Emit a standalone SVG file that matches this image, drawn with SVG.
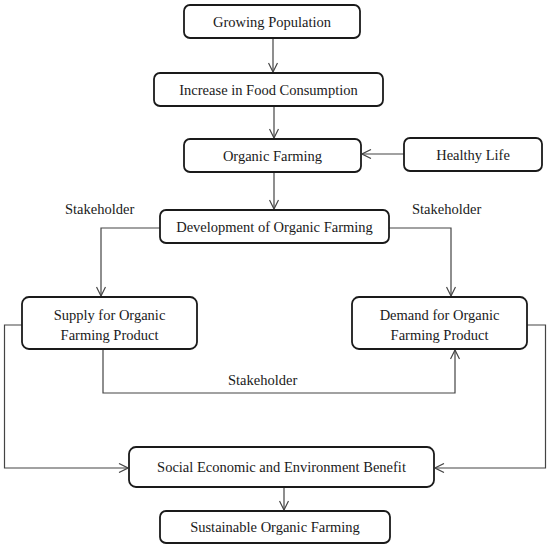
<svg xmlns="http://www.w3.org/2000/svg" width="550" height="548" viewBox="0 0 550 548">
<style>
.box{fill:#fff;stroke:#1a1a1a;stroke-width:1.8}
text{font-family:'Liberation Serif','DejaVu Serif',serif;font-size:14.5px;fill:#1a1a1a}
.t{text-anchor:middle}
.c{fill:none;stroke:#444;stroke-width:1.2}
</style>
<defs>
<marker id="ah" viewBox="0 0 10 10" refX="10" refY="5" markerWidth="10" markerHeight="10" markerUnits="userSpaceOnUse" orient="auto">
<path d="M1,0.5 L10,5 L1,9.5" fill="none" stroke="#444" stroke-width="1.2"/>
</marker>
</defs>
<rect width="550" height="548" fill="#fff"/>
<g id="connectors">
<path class="c" d="M273,38 V72" marker-end="url(#ah)"/>
<path class="c" d="M274,106 V138" marker-end="url(#ah)"/>
<path class="c" d="M404,154 H362" marker-end="url(#ah)"/>
<path class="c" d="M274,172 V209" marker-end="url(#ah)"/>
<path class="c" d="M160,228 H101 V296" marker-end="url(#ah)"/>
<path class="c" d="M389,228 H451 V296" marker-end="url(#ah)"/>
<path class="c" d="M103,349 V393 H455 V350" marker-end="url(#ah)"/>
<path class="c" d="M22,325 H4.5 V468 H128" marker-end="url(#ah)"/>
<path class="c" d="M527,325 H545.5 V468 H435" marker-end="url(#ah)"/>
<path class="c" d="M284,487 V510" marker-end="url(#ah)"/>
<text x="65" y="214">Stakeholder</text>
<text x="412" y="214">Stakeholder</text>
<text x="228" y="385">Stakeholder</text>
</g>
<g id="growing"><rect class="box" x="184" y="5" width="176" height="33" rx="6"/><text class="t" x="272" y="27">Growing Population</text></g>
<g id="increase"><rect class="box" x="154" y="73" width="229" height="33" rx="6"/><text class="t" x="268.5" y="95">Increase in Food Consumption</text></g>
<g id="organic"><rect class="box" x="184" y="139" width="177" height="33" rx="6"/><text class="t" x="272.5" y="161">Organic Farming</text></g>
<g id="healthy"><rect class="box" x="404" y="138" width="138" height="33" rx="6"/><text class="t" x="473" y="160">Healthy Life</text></g>
<g id="development"><rect class="box" x="160" y="210" width="229" height="33" rx="6"/><text class="t" x="274.5" y="232">Development of Organic Farming</text></g>
<g id="supply"><rect class="box" x="22" y="297" width="175" height="52" rx="7"/><text class="t" x="109.5" y="320">Supply for Organic</text><text class="t" x="109.5" y="340">Farming Product</text></g>
<g id="demand"><rect class="box" x="352" y="297" width="175" height="52" rx="7"/><text class="t" x="439.5" y="320">Demand for Organic</text><text class="t" x="439.5" y="340">Farming Product</text></g>
<g id="social"><rect class="box" x="129" y="447" width="305" height="40" rx="7"/><text class="t" x="281.5" y="472">Social Economic and Environment Benefit</text></g>
<g id="sustainable"><rect class="box" x="160" y="511" width="230" height="32" rx="6"/><text class="t" x="275" y="532">Sustainable Organic Farming</text></g>
</svg>
